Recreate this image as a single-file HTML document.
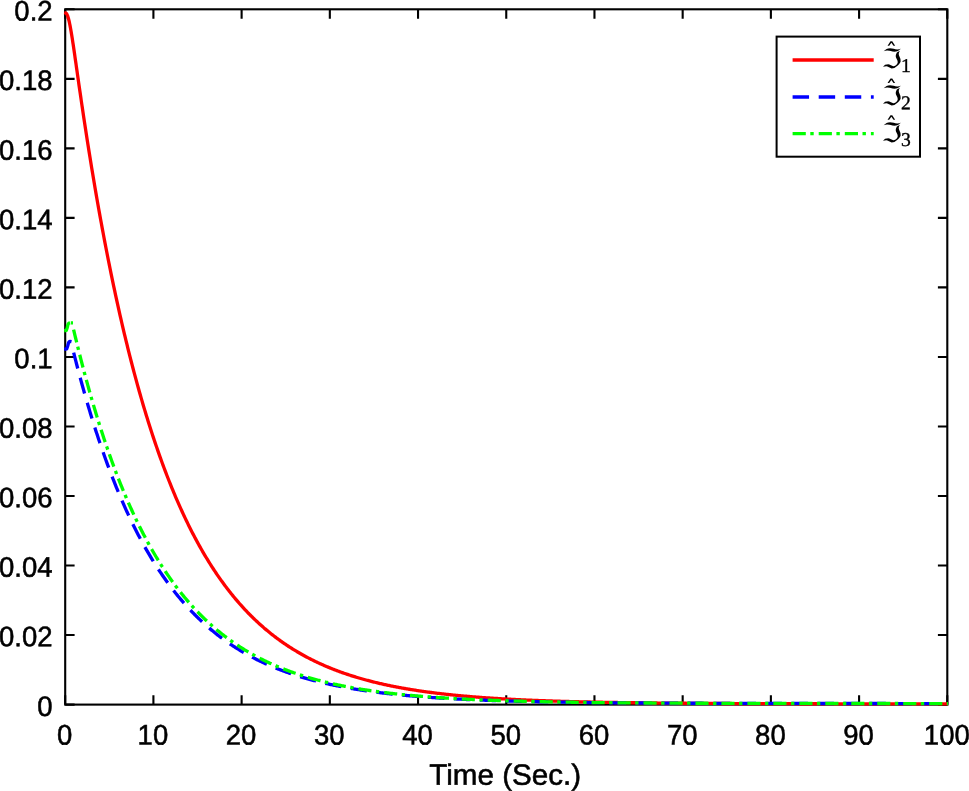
<!DOCTYPE html>
<html lang="en">
<head>
<meta charset="utf-8">
<title>Time (Sec.)</title>
<style>
html,body{margin:0;padding:0;background:#fff;}
body{width:969px;height:791px;overflow:hidden;}
svg{display:block;}
</style>
</head>
<body>
<svg width="969" height="791" viewBox="0 0 969 791">
<rect x="0" y="0" width="969" height="791" fill="#fff"/>
<g stroke="#000" stroke-width="2.1" fill="none" stroke-linecap="butt">
<rect x="65.2" y="9.3" width="882.10" height="695.30"/>
<path d="M65.20,704.6V695.20M65.20,9.3V18.70M153.41,704.6V695.20M153.41,9.3V18.70M241.62,704.6V695.20M241.62,9.3V18.70M329.83,704.6V695.20M329.83,9.3V18.70M418.04,704.6V695.20M418.04,9.3V18.70M506.25,704.6V695.20M506.25,9.3V18.70M594.46,704.6V695.20M594.46,9.3V18.70M682.67,704.6V695.20M682.67,9.3V18.70M770.88,704.6V695.20M770.88,9.3V18.70M859.09,704.6V695.20M859.09,9.3V18.70M947.30,704.6V695.20M947.30,9.3V18.70M65.2,704.60H74.60M947.3,704.60H937.90M65.2,635.07H74.60M947.3,635.07H937.90M65.2,565.54H74.60M947.3,565.54H937.90M65.2,496.01H74.60M947.3,496.01H937.90M65.2,426.48H74.60M947.3,426.48H937.90M65.2,356.95H74.60M947.3,356.95H937.90M65.2,287.42H74.60M947.3,287.42H937.90M65.2,217.89H74.60M947.3,217.89H937.90M65.2,148.36H74.60M947.3,148.36H937.90M65.2,78.83H74.60M947.3,78.83H937.90M65.2,9.30H74.60M947.3,9.30H937.90"/>
</g>
<g font-family="'Liberation Sans', Arial, Helvetica, sans-serif" font-size="28.3" fill="#000" stroke="#000" stroke-width="0.55" text-rendering="geometricPrecision">
<g text-anchor="middle">
<text transform="translate(64.70,744.6) scale(0.972,1) rotate(0.03)">0</text>
<text transform="translate(152.91,744.6) scale(0.972,1) rotate(0.03)">10</text>
<text transform="translate(241.12,744.6) scale(0.972,1) rotate(0.03)">20</text>
<text transform="translate(329.33,744.6) scale(0.972,1) rotate(0.03)">30</text>
<text transform="translate(417.54,744.6) scale(0.972,1) rotate(0.03)">40</text>
<text transform="translate(505.75,744.6) scale(0.972,1) rotate(0.03)">50</text>
<text transform="translate(593.96,744.6) scale(0.972,1) rotate(0.03)">60</text>
<text transform="translate(682.17,744.6) scale(0.972,1) rotate(0.03)">70</text>
<text transform="translate(770.38,744.6) scale(0.972,1) rotate(0.03)">80</text>
<text transform="translate(858.59,744.6) scale(0.972,1) rotate(0.03)">90</text>
<text transform="translate(946.80,744.6) scale(0.972,1) rotate(0.03)">100</text>
</g>
<g text-anchor="end">
<text transform="translate(52.6,715.90) scale(0.972,1) rotate(0.03)">0</text>
<text transform="translate(52.6,646.37) scale(0.972,1) rotate(0.03)">0.02</text>
<text transform="translate(52.6,576.84) scale(0.972,1) rotate(0.03)">0.04</text>
<text transform="translate(52.6,507.31) scale(0.972,1) rotate(0.03)">0.06</text>
<text transform="translate(52.6,437.78) scale(0.972,1) rotate(0.03)">0.08</text>
<text transform="translate(52.6,368.25) scale(0.972,1) rotate(0.03)">0.1</text>
<text transform="translate(52.6,298.72) scale(0.972,1) rotate(0.03)">0.12</text>
<text transform="translate(52.6,229.19) scale(0.972,1) rotate(0.03)">0.14</text>
<text transform="translate(52.6,159.66) scale(0.972,1) rotate(0.03)">0.16</text>
<text transform="translate(52.6,90.13) scale(0.972,1) rotate(0.03)">0.18</text>
<text transform="translate(52.6,20.60) scale(0.972,1) rotate(0.03)">0.2</text>
</g>
<text transform="translate(505.2,784.8) scale(1.01,1) rotate(0.03)" text-anchor="middle" font-size="29.3">Time (Sec.)</text>
</g>
<g fill="none" stroke-width="3.3" stroke-linejoin="round" stroke-linecap="butt">
<path stroke="#ff0000" d="M64.20,12.62 L65.20,12.92 L65.42,12.93 L65.64,12.97 L65.86,13.06 L66.08,13.21 L66.30,13.41 L66.52,13.67 L66.74,13.99 L66.96,14.37 L67.18,14.82 L67.41,15.32 L67.63,15.89 L67.85,16.52 L68.07,17.21 L68.29,17.95 L68.51,18.75 L68.73,19.60 L68.95,20.50 L69.17,21.45 L69.39,22.44 L69.61,23.48 L69.83,24.57 L70.05,25.69 L70.27,26.84 L70.49,28.04 L70.71,29.26 L70.93,30.52 L71.15,31.80 L71.37,33.12 L71.60,34.45 L71.82,35.81 L72.04,37.19 L72.26,38.59 L72.48,40.00 L72.70,41.44 L72.92,42.88 L73.14,44.35 L73.36,45.82 L73.58,47.30 L73.80,48.80 L74.02,50.30 L74.24,51.81 L74.46,53.33 L74.68,54.85 L74.90,56.38 L75.12,57.91 L75.34,59.45 L75.56,60.99 L75.79,62.53 L76.01,64.08 L76.23,65.62 L76.45,67.17 L76.67,68.72 L76.89,70.27 L77.11,71.81 L77.33,73.36 L77.55,74.91 L77.77,76.45 L77.99,78.00 L78.21,79.54 L78.43,81.08 L78.65,82.62 L78.87,84.15 L79.09,85.69 L79.31,87.22 L79.53,88.75 L79.75,90.27 L79.98,91.80 L80.20,93.32 L80.42,94.84 L80.64,96.35 L80.86,97.86 L81.08,99.37 L81.30,100.87 L81.52,102.38 L81.74,103.88 L81.96,105.37 L82.18,106.86 L82.40,108.35 L82.62,109.84 L82.84,111.32 L83.72,117.21 L84.61,123.04 L85.49,128.82 L86.37,134.54 L87.25,140.20 L88.13,145.81 L89.02,151.37 L89.90,156.86 L90.78,162.31 L91.66,167.70 L92.55,173.03 L93.43,178.31 L94.31,183.54 L95.19,188.72 L96.07,193.85 L96.96,198.92 L97.84,203.95 L98.72,208.92 L99.60,213.85 L100.48,218.72 L101.37,223.55 L102.25,228.33 L103.13,233.06 L104.01,237.75 L104.89,242.38 L105.78,246.98 L106.66,251.52 L107.54,256.02 L108.42,260.48 L109.31,264.89 L110.19,269.26 L111.07,273.59 L111.95,277.87 L112.83,282.11 L113.72,286.30 L114.60,290.46 L115.48,294.57 L116.36,298.65 L117.24,302.68 L118.13,306.67 L119.01,310.62 L119.89,314.54 L120.77,318.41 L121.65,322.25 L122.54,326.04 L123.42,329.80 L124.30,333.53 L125.18,337.21 L126.06,340.86 L126.95,344.47 L127.83,348.05 L128.71,351.59 L129.59,355.10 L130.48,358.57 L131.36,362.00 L132.24,365.40 L133.12,368.77 L134.00,372.11 L134.89,375.41 L135.77,378.68 L136.65,381.91 L137.53,385.12 L138.41,388.29 L139.30,391.43 L140.18,394.54 L141.06,397.62 L141.94,400.66 L142.82,403.68 L143.71,406.67 L144.59,409.63 L145.47,412.55 L146.35,415.45 L147.24,418.32 L148.12,421.17 L149.00,423.98 L149.88,426.76 L150.76,429.52 L151.65,432.25 L152.53,434.95 L153.41,437.63 L154.29,440.28 L155.17,442.90 L156.06,445.50 L156.94,448.07 L157.82,450.62 L158.70,453.14 L159.58,455.63 L160.47,458.10 L161.35,460.55 L162.23,462.97 L163.11,465.37 L164.00,467.74 L164.88,470.09 L165.76,472.42 L166.64,474.72 L167.52,477.00 L168.41,479.26 L169.29,481.49 L170.17,483.71 L171.05,485.90 L171.93,488.07 L172.82,490.21 L173.70,492.34 L174.58,494.45 L175.46,496.53 L176.34,498.59 L177.23,500.64 L178.11,502.66 L178.99,504.66 L179.87,506.64 L180.76,508.61 L181.64,510.55 L182.52,512.47 L183.40,514.38 L184.28,516.26 L185.17,518.13 L186.05,519.98 L186.93,521.81 L187.81,523.62 L188.69,525.42 L189.58,527.19 L190.46,528.95 L191.34,530.69 L192.22,532.41 L193.10,534.12 L193.99,535.81 L194.87,537.48 L195.75,539.14 L196.63,540.78 L197.51,542.40 L198.40,544.01 L199.28,545.60 L200.16,547.17 L201.04,548.73 L201.93,550.28 L202.81,551.81 L203.69,553.32 L204.57,554.82 L205.45,556.30 L206.34,557.77 L207.22,559.22 L208.10,560.66 L208.98,562.09 L209.86,563.50 L210.75,564.90 L211.63,566.28 L212.51,567.65 L213.39,569.01 L214.27,570.35 L215.16,571.68 L216.04,572.99 L216.92,574.30 L217.80,575.58 L218.69,576.86 L219.57,578.13 L220.45,579.38 L221.33,580.62 L222.21,581.84 L223.10,583.06 L223.98,584.26 L224.86,585.45 L225.74,586.63 L226.62,587.80 L227.51,588.95 L228.39,590.10 L229.27,591.23 L230.15,592.35 L231.03,593.46 L231.92,594.56 L232.80,595.65 L233.68,596.72 L234.56,597.79 L235.45,598.85 L236.33,599.89 L237.21,600.93 L238.09,601.95 L238.97,602.96 L239.86,603.97 L240.74,604.96 L241.62,605.95 L242.50,606.92 L243.38,607.89 L244.27,608.84 L245.15,609.79 L246.03,610.73 L246.91,611.65 L247.79,612.57 L248.68,613.48 L249.56,614.38 L250.44,615.27 L251.32,616.15 L252.21,617.02 L253.09,617.89 L253.97,618.75 L254.85,619.59 L255.73,620.43 L256.62,621.26 L257.50,622.08 L258.38,622.90 L259.26,623.70 L260.14,624.50 L261.03,625.29 L261.91,626.07 L262.79,626.85 L263.67,627.62 L264.55,628.38 L265.44,629.13 L266.32,629.87 L267.20,630.61 L268.08,631.34 L268.97,632.06 L269.85,632.77 L270.73,633.48 L271.61,634.18 L272.49,634.88 L273.38,635.56 L274.26,636.24 L275.14,636.92 L276.02,637.58 L276.90,638.24 L277.79,638.90 L278.67,639.54 L279.55,640.18 L280.43,640.82 L281.31,641.44 L282.20,642.07 L283.08,642.68 L283.96,643.29 L284.84,643.89 L285.73,644.49 L286.61,645.08 L287.49,645.67 L288.37,646.25 L289.25,646.82 L290.14,647.39 L291.02,647.95 L291.90,648.51 L292.78,649.06 L293.66,649.60 L294.55,650.14 L295.43,650.68 L296.31,651.21 L297.19,651.73 L298.07,652.25 L298.96,652.77 L299.84,653.28 L300.72,653.78 L301.60,654.28 L302.48,654.77 L303.37,655.26 L304.25,655.74 L305.13,656.22 L306.01,656.70 L306.90,657.17 L307.78,657.63 L308.66,658.09 L309.54,658.55 L310.42,659.00 L311.31,659.45 L312.19,659.89 L313.07,660.33 L313.95,660.76 L314.83,661.19 L315.72,661.62 L316.60,662.04 L317.48,662.45 L318.36,662.87 L319.24,663.27 L320.13,663.68 L321.01,664.08 L321.89,664.47 L322.77,664.87 L323.66,665.26 L324.54,665.64 L325.42,666.02 L326.30,666.40 L327.18,666.77 L328.07,667.14 L328.95,667.51 L329.83,667.87 L330.71,668.23 L331.59,668.58 L332.48,668.93 L333.36,669.28 L334.24,669.63 L335.12,669.97 L336.00,670.30 L336.89,670.64 L337.77,670.97 L338.65,671.30 L339.53,671.62 L340.42,671.94 L341.30,672.26 L342.18,672.58 L343.06,672.89 L343.94,673.20 L344.83,673.50 L345.71,673.80 L346.59,674.10 L347.47,674.40 L348.35,674.69 L349.24,674.98 L350.12,675.27 L351.00,675.56 L351.88,675.84 L352.76,676.12 L353.65,676.40 L354.53,676.67 L355.41,676.94 L356.29,677.21 L357.18,677.47 L358.06,677.74 L358.94,678.00 L359.82,678.26 L360.70,678.51 L361.59,678.76 L362.47,679.01 L363.35,679.26 L364.23,679.51 L365.11,679.75 L366.00,679.99 L366.88,680.23 L367.76,680.46 L368.64,680.70 L369.52,680.93 L370.41,681.16 L371.29,681.38 L372.17,681.61 L373.05,681.83 L373.93,682.05 L374.82,682.27 L375.70,682.48 L376.58,682.69 L377.46,682.90 L378.35,683.11 L379.23,683.32 L380.11,683.53 L380.99,683.73 L381.87,683.93 L382.76,684.13 L383.64,684.32 L384.52,684.52 L385.40,684.71 L386.28,684.90 L387.17,685.09 L388.05,685.28 L388.93,685.46 L389.81,685.65 L390.69,685.83 L391.58,686.01 L392.46,686.19 L393.34,686.36 L394.22,686.54 L395.11,686.71 L395.99,686.88 L396.87,687.05 L397.75,687.22 L398.63,687.39 L399.52,687.55 L400.40,687.71 L401.28,687.87 L402.16,688.03 L403.04,688.19 L403.93,688.35 L404.81,688.50 L405.69,688.66 L406.57,688.81 L407.45,688.96 L408.34,689.11 L409.22,689.25 L410.10,689.40 L410.98,689.54 L411.87,689.69 L412.75,689.83 L413.63,689.97 L414.51,690.11 L415.39,690.24 L416.28,690.38 L417.16,690.51 L418.04,690.65 L418.92,690.78 L419.80,690.91 L420.69,691.04 L421.57,691.17 L422.45,691.29 L423.33,691.42 L424.21,691.54 L425.10,691.67 L425.98,691.79 L426.86,691.91 L427.74,692.03 L428.63,692.15 L429.51,692.26 L430.39,692.38 L431.27,692.49 L432.15,692.61 L433.04,692.72 L433.92,692.83 L434.80,692.94 L435.68,693.05 L436.56,693.16 L437.45,693.27 L438.33,693.37 L439.21,693.48 L440.09,693.58 L440.97,693.68 L441.86,693.78 L442.74,693.89 L443.62,693.98 L444.50,694.08 L445.39,694.18 L446.27,694.28 L447.15,694.37 L448.03,694.47 L448.91,694.56 L449.80,694.66 L450.68,694.75 L451.56,694.84 L452.44,694.93 L453.32,695.02 L454.21,695.11 L455.09,695.19 L455.97,695.28 L456.85,695.37 L457.73,695.45 L458.62,695.54 L459.50,695.62 L460.38,695.70 L461.26,695.78 L462.14,695.86 L463.03,695.94 L463.91,696.02 L464.79,696.10 L465.67,696.18 L466.56,696.26 L467.44,696.33 L468.32,696.41 L469.20,696.48 L470.08,696.56 L470.97,696.63 L471.85,696.70 L472.73,696.77 L473.61,696.84 L474.49,696.91 L475.38,696.98 L476.26,697.05 L477.14,697.12 L478.02,697.19 L478.90,697.26 L479.79,697.32 L480.67,697.39 L481.55,697.45 L482.43,697.52 L483.32,697.58 L484.20,697.64 L485.08,697.70 L485.96,697.77 L486.84,697.83 L487.73,697.89 L488.61,697.95 L489.49,698.01 L490.37,698.07 L491.25,698.12 L492.14,698.18 L493.02,698.24 L493.90,698.29 L494.78,698.35 L495.66,698.41 L496.55,698.46 L497.43,698.51 L498.31,698.57 L499.19,698.62 L500.08,698.67 L500.96,698.73 L501.84,698.78 L502.72,698.83 L503.60,698.88 L504.49,698.93 L505.37,698.98 L506.25,699.03 L507.13,699.08 L508.01,699.12 L508.90,699.17 L509.78,699.22 L510.66,699.27 L511.54,699.31 L512.42,699.36 L513.31,699.40 L514.19,699.45 L515.07,699.49 L515.95,699.54 L516.84,699.58 L517.72,699.62 L518.60,699.66 L519.48,699.71 L520.36,699.75 L521.25,699.79 L522.13,699.83 L523.01,699.87 L523.89,699.91 L524.77,699.95 L525.66,699.99 L526.54,700.03 L527.42,700.07 L528.30,700.11 L529.18,700.14 L530.07,700.18 L530.95,700.22 L531.83,700.26 L532.71,700.29 L533.60,700.33 L534.48,700.36 L535.36,700.40 L536.24,700.43 L537.12,700.47 L538.01,700.50 L538.89,700.54 L539.77,700.57 L540.65,700.60 L541.53,700.64 L542.42,700.67 L543.30,700.70 L544.18,700.73 L545.06,700.76 L545.94,700.80 L546.83,700.83 L547.71,700.86 L548.59,700.89 L549.47,700.92 L550.36,700.95 L551.24,700.98 L552.12,701.01 L553.00,701.03 L553.88,701.06 L554.77,701.09 L555.65,701.12 L556.53,701.15 L557.41,701.17 L558.29,701.20 L559.18,701.23 L560.06,701.25 L560.94,701.28 L561.82,701.31 L562.70,701.33 L563.59,701.36 L564.47,701.38 L565.35,701.41 L566.23,701.43 L567.11,701.46 L568.00,701.48 L568.88,701.51 L569.76,701.53 L570.64,701.55 L571.53,701.58 L572.41,701.60 L573.29,701.62 L574.17,701.65 L575.05,701.67 L575.94,701.69 L576.82,701.71 L577.70,701.74 L578.58,701.76 L579.46,701.78 L580.35,701.80 L581.23,701.82 L582.11,701.84 L582.99,701.86 L583.87,701.88 L584.76,701.90 L585.64,701.92 L586.52,701.94 L587.40,701.96 L588.29,701.98 L589.17,702.00 L590.05,702.02 L590.93,702.04 L591.81,702.06 L592.70,702.07 L593.58,702.09 L594.46,702.11 L595.34,702.13 L596.22,702.15 L597.11,702.16 L597.99,702.18 L598.87,702.20 L599.75,702.22 L600.63,702.23 L601.52,702.25 L602.40,702.26 L603.28,702.28 L604.16,702.30 L605.05,702.31 L605.93,702.33 L606.81,702.34 L607.69,702.36 L608.57,702.38 L609.46,702.39 L610.34,702.41 L611.22,702.42 L612.10,702.44 L612.98,702.45 L613.87,702.46 L614.75,702.48 L615.63,702.49 L616.51,702.51 L617.39,702.52 L618.28,702.54 L619.16,702.55 L620.04,702.56 L620.92,702.58 L621.81,702.59 L622.69,702.60 L623.57,702.61 L624.45,702.63 L625.33,702.64 L626.22,702.65 L627.10,702.67 L627.98,702.68 L628.86,702.69 L629.74,702.70 L630.63,702.71 L631.51,702.73 L632.39,702.74 L633.27,702.75 L634.15,702.76 L635.04,702.77 L635.92,702.78 L636.80,702.79 L637.68,702.81 L638.56,702.82 L639.45,702.83 L640.33,702.84 L641.21,702.85 L642.09,702.86 L642.98,702.87 L643.86,702.88 L644.74,702.89 L645.62,702.90 L646.50,702.91 L647.39,702.92 L648.27,702.93 L649.15,702.94 L650.03,702.95 L650.91,702.96 L651.80,702.97 L652.68,702.98 L653.56,702.99 L654.44,703.00 L655.32,703.00 L656.21,703.01 L657.09,703.02 L657.97,703.03 L658.85,703.04 L659.74,703.05 L660.62,703.06 L661.50,703.07 L662.38,703.07 L663.26,703.08 L664.15,703.09 L665.03,703.10 L665.91,703.11 L666.79,703.11 L667.67,703.12 L668.56,703.13 L669.44,703.14 L670.32,703.15 L671.20,703.15 L672.08,703.16 L672.97,703.17 L673.85,703.18 L674.73,703.18 L675.61,703.19 L676.50,703.20 L677.38,703.20 L678.26,703.21 L679.14,703.22 L680.02,703.22 L680.91,703.23 L681.79,703.24 L682.67,703.24 L683.55,703.25 L684.43,703.26 L685.32,703.26 L686.20,703.27 L687.08,703.28 L687.96,703.28 L688.84,703.29 L689.73,703.30 L690.61,703.30 L691.49,703.31 L692.37,703.31 L693.26,703.32 L694.14,703.33 L695.02,703.33 L695.90,703.34 L696.78,703.34 L697.67,703.35 L698.55,703.35 L699.43,703.36 L700.31,703.36 L701.19,703.37 L702.08,703.38 L702.96,703.38 L703.84,703.39 L704.72,703.39 L705.60,703.40 L706.49,703.40 L707.37,703.41 L708.25,703.41 L709.13,703.42 L710.02,703.42 L710.90,703.43 L711.78,703.43 L712.66,703.43 L713.54,703.44 L714.43,703.44 L715.31,703.45 L716.19,703.45 L717.07,703.46 L717.95,703.46 L718.84,703.47 L719.72,703.47 L720.60,703.48 L721.48,703.48 L722.36,703.48 L723.25,703.49 L724.13,703.49 L725.01,703.50 L725.89,703.50 L726.78,703.50 L727.66,703.51 L728.54,703.51 L729.42,703.52 L730.30,703.52 L731.19,703.52 L732.07,703.53 L732.95,703.53 L733.83,703.54 L734.71,703.54 L735.60,703.54 L736.48,703.55 L737.36,703.55 L738.24,703.55 L739.12,703.56 L740.01,703.56 L740.89,703.56 L741.77,703.57 L742.65,703.57 L743.53,703.57 L744.42,703.58 L745.30,703.58 L746.18,703.58 L747.06,703.59 L747.95,703.59 L748.83,703.59 L749.71,703.60 L750.59,703.60 L751.47,703.60 L752.36,703.61 L753.24,703.61 L754.12,703.61 L755.00,703.61 L755.88,703.62 L756.77,703.62 L757.65,703.62 L758.53,703.63 L759.41,703.63 L760.29,703.63 L761.18,703.63 L762.06,703.64 L762.94,703.64 L763.82,703.64 L764.71,703.64 L765.59,703.65 L766.47,703.65 L767.35,703.65 L768.23,703.65 L769.12,703.66 L770.00,703.66 L770.88,703.66 L771.76,703.66 L772.64,703.67 L773.53,703.67 L774.41,703.67 L775.29,703.67 L776.17,703.68 L777.05,703.68 L777.94,703.68 L778.82,703.68 L779.70,703.68 L780.58,703.69 L781.47,703.69 L782.35,703.69 L783.23,703.69 L784.11,703.70 L784.99,703.70 L785.88,703.70 L786.76,703.70 L787.64,703.70 L788.52,703.71 L789.40,703.71 L790.29,703.71 L791.17,703.71 L792.05,703.71 L792.93,703.72 L793.81,703.72 L794.70,703.72 L795.58,703.72 L796.46,703.72 L797.34,703.72 L798.23,703.73 L799.11,703.73 L799.99,703.73 L800.87,703.73 L801.75,703.73 L802.64,703.74 L803.52,703.74 L804.40,703.74 L805.28,703.74 L806.16,703.74 L807.05,703.74 L807.93,703.75 L808.81,703.75 L809.69,703.75 L810.57,703.75 L811.46,703.75 L812.34,703.75 L813.22,703.75 L814.10,703.76 L814.98,703.76 L815.87,703.76 L816.75,703.76 L817.63,703.76 L818.51,703.76 L819.40,703.76 L820.28,703.77 L821.16,703.77 L822.04,703.77 L822.92,703.77 L823.81,703.77 L824.69,703.77 L825.57,703.77 L826.45,703.78 L827.33,703.78 L828.22,703.78 L829.10,703.78 L829.98,703.78 L830.86,703.78 L831.74,703.78 L832.63,703.78 L833.51,703.79 L834.39,703.79 L835.27,703.79 L836.16,703.79 L837.04,703.79 L837.92,703.79 L838.80,703.79 L839.68,703.79 L840.57,703.79 L841.45,703.80 L842.33,703.80 L843.21,703.80 L844.09,703.80 L844.98,703.80 L845.86,703.80 L846.74,703.80 L847.62,703.80 L848.50,703.80 L849.39,703.80 L850.27,703.81 L851.15,703.81 L852.03,703.81 L852.92,703.81 L853.80,703.81 L854.68,703.81 L855.56,703.81 L856.44,703.81 L857.33,703.81 L858.21,703.81 L859.09,703.82 L859.97,703.82 L860.85,703.82 L861.74,703.82 L862.62,703.82 L863.50,703.82 L864.38,703.82 L865.26,703.82 L866.15,703.82 L867.03,703.82 L867.91,703.82 L868.79,703.82 L869.68,703.83 L870.56,703.83 L871.44,703.83 L872.32,703.83 L873.20,703.83 L874.09,703.83 L874.97,703.83 L875.85,703.83 L876.73,703.83 L877.61,703.83 L878.50,703.83 L879.38,703.83 L880.26,703.83 L881.14,703.84 L882.02,703.84 L882.91,703.84 L883.79,703.84 L884.67,703.84 L885.55,703.84 L886.44,703.84 L887.32,703.84 L888.20,703.84 L889.08,703.84 L889.96,703.84 L890.85,703.84 L891.73,703.84 L892.61,703.84 L893.49,703.84 L894.37,703.84 L895.26,703.85 L896.14,703.85 L897.02,703.85 L897.90,703.85 L898.78,703.85 L899.67,703.85 L900.55,703.85 L901.43,703.85 L902.31,703.85 L903.19,703.85 L904.08,703.85 L904.96,703.85 L905.84,703.85 L906.72,703.85 L907.61,703.85 L908.49,703.85 L909.37,703.85 L910.25,703.85 L911.13,703.86 L912.02,703.86 L912.90,703.86 L913.78,703.86 L914.66,703.86 L915.54,703.86 L916.43,703.86 L917.31,703.86 L918.19,703.86 L919.07,703.86 L919.95,703.86 L920.84,703.86 L921.72,703.86 L922.60,703.86 L923.48,703.86 L924.37,703.86 L925.25,703.86 L926.13,703.86 L927.01,703.86 L927.89,703.86 L928.78,703.86 L929.66,703.86 L930.54,703.86 L931.42,703.87 L932.30,703.87 L933.19,703.87 L934.07,703.87 L934.95,703.87 L935.83,703.87 L936.71,703.87 L937.60,703.87 L938.48,703.87 L939.36,703.87 L940.24,703.87 L941.13,703.87 L942.01,703.87 L942.89,703.87 L943.77,703.87 L944.65,703.87 L945.54,703.87 L946.42,703.87 L947.30,703.87 L948.20,703.87"/>
<path stroke="#0000ff" stroke-dasharray="16.37 9.6" d="M73.66,352.64 L74.12,354.47 L74.58,356.29 L75.04,358.11 L75.51,359.91 L75.97,361.70 L76.43,363.49 L76.89,365.26 L77.35,367.03 L77.81,368.78 L78.28,370.53 L78.74,372.27 L79.20,374.00 L79.66,375.72 L80.12,377.43 L80.58,379.13 L81.05,380.83 L81.51,382.51 L81.97,384.19 L82.43,385.85 L82.89,387.51 L83.35,389.16 L83.82,390.80 L84.28,392.43 L84.74,394.06 L85.20,395.67 L85.66,397.28 L86.12,398.88 L86.59,400.47 L87.05,402.05 L87.51,403.63 L87.97,405.19 L88.43,406.75 L88.89,408.30 L89.35,409.84 L89.82,411.37 L90.28,412.90 L90.74,414.41 L91.20,415.92 L91.66,417.42 L92.55,420.27 L93.43,423.09 L94.31,425.88 L95.19,428.64 L96.07,431.38 L96.96,434.09 L97.84,436.77 L98.72,439.42 L99.60,442.05 L100.48,444.65 L101.37,447.23 L102.25,449.78 L103.13,452.30 L104.01,454.80 L104.89,457.28 L105.78,459.73 L106.66,462.16 L107.54,464.56 L108.42,466.94 L109.31,469.29 L110.19,471.62 L111.07,473.93 L111.95,476.21 L112.83,478.48 L113.72,480.72 L114.60,482.93 L115.48,485.13 L116.36,487.30 L117.24,489.45 L118.13,491.58 L119.01,493.69 L119.89,495.78 L120.77,497.85 L121.65,499.90 L122.54,501.92 L123.42,503.93 L124.30,505.92 L125.18,507.88 L126.06,509.83 L126.95,511.76 L127.83,513.66 L128.71,515.55 L129.59,517.42 L130.48,519.28 L131.36,521.11 L132.24,522.93 L133.12,524.72 L134.00,526.50 L134.89,528.26 L135.77,530.01 L136.65,531.74 L137.53,533.45 L138.41,535.14 L139.30,536.81 L140.18,538.47 L141.06,540.12 L141.94,541.74 L142.82,543.35 L143.71,544.95 L144.59,546.52 L145.47,548.09 L146.35,549.63 L147.24,551.16 L148.12,552.68 L149.00,554.18 L149.88,555.67 L150.76,557.14 L151.65,558.60 L152.53,560.04 L153.41,561.47 L154.29,562.88 L155.17,564.28 L156.06,565.67 L156.94,567.04 L157.82,568.40 L158.70,569.74 L159.58,571.07 L160.47,572.39 L161.35,573.70 L162.23,574.99 L163.11,576.27 L164.00,577.54 L164.88,578.79 L165.76,580.03 L166.64,581.26 L167.52,582.48 L168.41,583.68 L169.29,584.87 L170.17,586.05 L171.05,587.22 L171.93,588.38 L172.82,589.53 L173.70,590.66 L174.58,591.79 L175.46,592.90 L176.34,594.00 L177.23,595.09 L178.11,596.17 L178.99,597.24 L179.87,598.29 L180.76,599.34 L181.64,600.38 L182.52,601.41 L183.40,602.42 L184.28,603.43 L185.17,604.42 L186.05,605.41 L186.93,606.39 L187.81,607.35 L188.69,608.31 L189.58,609.26 L190.46,610.20 L191.34,611.13 L192.22,612.05 L193.10,612.96 L193.99,613.86 L194.87,614.75 L195.75,615.63 L196.63,616.51 L197.51,617.38 L198.40,618.23 L199.28,619.08 L200.16,619.92 L201.04,620.75 L201.93,621.58 L202.81,622.39 L203.69,623.20 L204.57,624.00 L205.45,624.79 L206.34,625.58 L207.22,626.35 L208.10,627.12 L208.98,627.88 L209.86,628.63 L210.75,629.38 L211.63,630.12 L212.51,630.85 L213.39,631.57 L214.27,632.29 L215.16,633.00 L216.04,633.70 L216.92,634.39 L217.80,635.08 L218.69,635.76 L219.57,636.44 L220.45,637.11 L221.33,637.77 L222.21,638.42 L223.10,639.07 L223.98,639.71 L224.86,640.35 L225.74,640.98 L226.62,641.60 L227.51,642.22 L228.39,642.83 L229.27,643.43 L230.15,644.03 L231.03,644.62 L231.92,645.21 L232.80,645.79 L233.68,646.36 L234.56,646.93 L235.45,647.50 L236.33,648.05 L237.21,648.61 L238.09,649.15 L238.97,649.69 L239.86,650.23 L240.74,650.76 L241.62,651.29 L242.50,651.81 L243.38,652.32 L244.27,652.83 L245.15,653.33 L246.03,653.83 L246.91,654.33 L247.79,654.82 L248.68,655.30 L249.56,655.78 L250.44,656.26 L251.32,656.73 L252.21,657.20 L253.09,657.66 L253.97,658.11 L254.85,658.57 L255.73,659.01 L256.62,659.46 L257.50,659.90 L258.38,660.33 L259.26,660.76 L260.14,661.19 L261.03,661.61 L261.91,662.03 L262.79,662.44 L263.67,662.85 L264.55,663.25 L265.44,663.65 L266.32,664.05 L267.20,664.44 L268.08,664.83 L268.97,665.22 L269.85,665.60 L270.73,665.98 L271.61,666.35 L272.49,666.72 L273.38,667.09 L274.26,667.45 L275.14,667.81 L276.02,668.17 L276.90,668.52 L277.79,668.87 L278.67,669.21 L279.55,669.55 L280.43,669.89 L281.31,670.23 L282.20,670.56 L283.08,670.89 L283.96,671.21 L284.84,671.53 L285.73,671.85 L286.61,672.17 L287.49,672.48 L288.37,672.79 L289.25,673.10 L290.14,673.40 L291.02,673.70 L291.90,674.00 L292.78,674.29 L293.66,674.58 L294.55,674.87 L295.43,675.16 L296.31,675.44 L297.19,675.72 L298.07,675.99 L298.96,676.27 L299.84,676.54 L300.72,676.81 L301.60,677.08 L302.48,677.34 L303.37,677.60 L304.25,677.86 L305.13,678.11 L306.01,678.37 L306.90,678.62 L307.78,678.87 L308.66,679.11 L309.54,679.35 L310.42,679.60 L311.31,679.83 L312.19,680.07 L313.07,680.30 L313.95,680.53 L314.83,680.76 L315.72,680.99 L316.60,681.22 L317.48,681.44 L318.36,681.66 L319.24,681.88 L320.13,682.09 L321.01,682.30 L321.89,682.52 L322.77,682.73 L323.66,682.93 L324.54,683.14 L325.42,683.34 L326.30,683.54 L327.18,683.74 L328.07,683.94 L328.95,684.13 L329.83,684.33 L330.71,684.52 L331.59,684.71 L332.48,684.90 L333.36,685.08 L334.24,685.27 L335.12,685.45 L336.00,685.63 L336.89,685.81 L337.77,685.98 L338.65,686.16 L339.53,686.33 L340.42,686.50 L341.30,686.67 L342.18,686.84 L343.06,687.01 L343.94,687.17 L344.83,687.33 L345.71,687.50 L346.59,687.65 L347.47,687.81 L348.35,687.97 L349.24,688.12 L350.12,688.28 L351.00,688.43 L351.88,688.58 L352.76,688.73 L353.65,688.88 L354.53,689.02 L355.41,689.17 L356.29,689.31 L357.18,689.45 L358.06,689.59 L358.94,689.73 L359.82,689.87 L360.70,690.01 L361.59,690.14 L362.47,690.27 L363.35,690.41 L364.23,690.54 L365.11,690.67 L366.00,690.80 L366.88,690.92 L367.76,691.05 L368.64,691.17 L369.52,691.30 L370.41,691.42 L371.29,691.54 L372.17,691.66 L373.05,691.78 L373.93,691.89 L374.82,692.01 L375.70,692.12 L376.58,692.24 L377.46,692.35 L378.35,692.46 L379.23,692.57 L380.11,692.68 L380.99,692.79 L381.87,692.90 L382.76,693.00 L383.64,693.11 L384.52,693.21 L385.40,693.32 L386.28,693.42 L387.17,693.52 L388.05,693.62 L388.93,693.72 L389.81,693.81 L390.69,693.91 L391.58,694.01 L392.46,694.10 L393.34,694.20 L394.22,694.29 L395.11,694.38 L395.99,694.47 L396.87,694.56 L397.75,694.65 L398.63,694.74 L399.52,694.83 L400.40,694.92 L401.28,695.00 L402.16,695.09 L403.04,695.17 L403.93,695.26 L404.81,695.34 L405.69,695.42 L406.57,695.50 L407.45,695.58 L408.34,695.66 L409.22,695.74 L410.10,695.82 L410.98,695.89 L411.87,695.97 L412.75,696.05 L413.63,696.12 L414.51,696.19 L415.39,696.27 L416.28,696.34 L417.16,696.41 L418.04,696.48 L418.92,696.55 L419.80,696.62 L420.69,696.69 L421.57,696.76 L422.45,696.83 L423.33,696.89 L424.21,696.96 L425.10,697.03 L425.98,697.09 L426.86,697.16 L427.74,697.22 L428.63,697.28 L429.51,697.35 L430.39,697.41 L431.27,697.47 L432.15,697.53 L433.04,697.59 L433.92,697.65 L434.80,697.71 L435.68,697.77 L436.56,697.82 L437.45,697.88 L438.33,697.94 L439.21,697.99 L440.09,698.05 L440.97,698.10 L441.86,698.16 L442.74,698.21 L443.62,698.26 L444.50,698.32 L445.39,698.37 L446.27,698.42 L447.15,698.47 L448.03,698.52 L448.91,698.57 L449.80,698.62 L450.68,698.67 L451.56,698.72 L452.44,698.77 L453.32,698.82 L454.21,698.86 L455.09,698.91 L455.97,698.96 L456.85,699.00 L457.73,699.05 L458.62,699.09 L459.50,699.14 L460.38,699.18 L461.26,699.22 L462.14,699.27 L463.03,699.31 L463.91,699.35 L464.79,699.39 L465.67,699.43 L466.56,699.48 L467.44,699.52 L468.32,699.56 L469.20,699.60 L470.08,699.64 L470.97,699.67 L471.85,699.71 L472.73,699.75 L473.61,699.79 L474.49,699.83 L475.38,699.86 L476.26,699.90 L477.14,699.94 L478.02,699.97 L478.90,700.01 L479.79,700.04 L480.67,700.08 L481.55,700.11 L482.43,700.15 L483.32,700.18 L484.20,700.22 L485.08,700.25 L485.96,700.28 L486.84,700.31 L487.73,700.35 L488.61,700.38 L489.49,700.41 L490.37,700.44 L491.25,700.47 L492.14,700.50 L493.02,700.53 L493.90,700.56 L494.78,700.59 L495.66,700.62 L496.55,700.65 L497.43,700.68 L498.31,700.71 L499.19,700.74 L500.08,700.77 L500.96,700.79 L501.84,700.82 L502.72,700.85 L503.60,700.88 L504.49,700.90 L505.37,700.93 L506.25,700.95 L507.13,700.98 L508.01,701.01 L508.90,701.03 L509.78,701.06 L510.66,701.08 L511.54,701.11 L512.42,701.13 L513.31,701.15 L514.19,701.18 L515.07,701.20 L515.95,701.23 L516.84,701.25 L517.72,701.27 L518.60,701.29 L519.48,701.32 L520.36,701.34 L521.25,701.36 L522.13,701.38 L523.01,701.40 L523.89,701.43 L524.77,701.45 L525.66,701.47 L526.54,701.49 L527.42,701.51 L528.30,701.53 L529.18,701.55 L530.07,701.57 L530.95,701.59 L531.83,701.61 L532.71,701.63 L533.60,701.65 L534.48,701.67 L535.36,701.69 L536.24,701.70 L537.12,701.72 L538.01,701.74 L538.89,701.76 L539.77,701.78 L540.65,701.80 L541.53,701.81 L542.42,701.83 L543.30,701.85 L544.18,701.86 L545.06,701.88 L545.94,701.90 L546.83,701.91 L547.71,701.93 L548.59,701.95 L549.47,701.96 L550.36,701.98 L551.24,701.99 L552.12,702.01 L553.00,702.03 L553.88,702.04 L554.77,702.06 L555.65,702.07 L556.53,702.09 L557.41,702.10 L558.29,702.11 L559.18,702.13 L560.06,702.14 L560.94,702.16 L561.82,702.17 L562.70,702.18 L563.59,702.20 L564.47,702.21 L565.35,702.23 L566.23,702.24 L567.11,702.25 L568.00,702.26 L568.88,702.28 L569.76,702.29 L570.64,702.30 L571.53,702.32 L572.41,702.33 L573.29,702.34 L574.17,702.35 L575.05,702.36 L575.94,702.38 L576.82,702.39 L577.70,702.40 L578.58,702.41 L579.46,702.42 L580.35,702.43 L581.23,702.44 L582.11,702.46 L582.99,702.47 L583.87,702.48 L584.76,702.49 L585.64,702.50 L586.52,702.51 L587.40,702.52 L588.29,702.53 L589.17,702.54 L590.05,702.55 L590.93,702.56 L591.81,702.57 L592.70,702.58 L593.58,702.59 L594.46,702.60 L595.34,702.61 L596.22,702.62 L597.11,702.63 L597.99,702.64 L598.87,702.65 L599.75,702.66 L600.63,702.66 L601.52,702.67 L602.40,702.68 L603.28,702.69 L604.16,702.70 L605.05,702.71 L605.93,702.72 L606.81,702.72 L607.69,702.73 L608.57,702.74 L609.46,702.75 L610.34,702.76 L611.22,702.77 L612.10,702.77 L612.98,702.78 L613.87,702.79 L614.75,702.80 L615.63,702.80 L616.51,702.81 L617.39,702.82 L618.28,702.83 L619.16,702.83 L620.04,702.84 L620.92,702.85 L621.81,702.85 L622.69,702.86 L623.57,702.87 L624.45,702.88 L625.33,702.88 L626.22,702.89 L627.10,702.90 L627.98,702.90 L628.86,702.91 L629.74,702.92 L630.63,702.92 L631.51,702.93 L632.39,702.93 L633.27,702.94 L634.15,702.95 L635.04,702.95 L635.92,702.96 L636.80,702.96 L637.68,702.97 L638.56,702.98 L639.45,702.98 L640.33,702.99 L641.21,702.99 L642.09,703.00 L642.98,703.00 L643.86,703.01 L644.74,703.02 L645.62,703.02 L646.50,703.03 L647.39,703.03 L648.27,703.04 L649.15,703.04 L650.03,703.05 L650.91,703.05 L651.80,703.06 L652.68,703.06 L653.56,703.07 L654.44,703.07 L655.32,703.08 L656.21,703.08 L657.09,703.09 L657.97,703.09 L658.85,703.10 L659.74,703.10 L660.62,703.10 L661.50,703.11 L662.38,703.11 L663.26,703.12 L664.15,703.12 L665.03,703.13 L665.91,703.13 L666.79,703.14 L667.67,703.14 L668.56,703.14 L669.44,703.15 L670.32,703.15 L671.20,703.16 L672.08,703.16 L672.97,703.16 L673.85,703.17 L674.73,703.17 L675.61,703.18 L676.50,703.18 L677.38,703.18 L678.26,703.19 L679.14,703.19 L680.02,703.19 L680.91,703.20 L681.79,703.20 L682.67,703.20 L683.55,703.21 L684.43,703.21 L685.32,703.22 L686.20,703.22 L687.08,703.22 L687.96,703.23 L688.84,703.23 L689.73,703.23 L690.61,703.24 L691.49,703.24 L692.37,703.24 L693.26,703.24 L694.14,703.25 L695.02,703.25 L695.90,703.25 L696.78,703.26 L697.67,703.26 L698.55,703.26 L699.43,703.27 L700.31,703.27 L701.19,703.27 L702.08,703.27 L702.96,703.28 L703.84,703.28 L704.72,703.28 L705.60,703.29 L706.49,703.29 L707.37,703.29 L708.25,703.29 L709.13,703.30 L710.02,703.30 L710.90,703.30 L711.78,703.30 L712.66,703.31 L713.54,703.31 L714.43,703.31 L715.31,703.31 L716.19,703.32 L717.07,703.32 L717.95,703.32 L718.84,703.32 L719.72,703.33 L720.60,703.33 L721.48,703.33 L722.36,703.33 L723.25,703.33 L724.13,703.34 L725.01,703.34 L725.89,703.34 L726.78,703.34 L727.66,703.35 L728.54,703.35 L729.42,703.35 L730.30,703.35 L731.19,703.35 L732.07,703.36 L732.95,703.36 L733.83,703.36 L734.71,703.36 L735.60,703.36 L736.48,703.37 L737.36,703.37 L738.24,703.37 L739.12,703.37 L740.01,703.37 L740.89,703.38 L741.77,703.38 L742.65,703.38 L743.53,703.38 L744.42,703.38 L745.30,703.38 L746.18,703.39 L747.06,703.39 L747.95,703.39 L748.83,703.39 L749.71,703.39 L750.59,703.39 L751.47,703.40 L752.36,703.40 L753.24,703.40 L754.12,703.40 L755.00,703.40 L755.88,703.40 L756.77,703.40 L757.65,703.41 L758.53,703.41 L759.41,703.41 L760.29,703.41 L761.18,703.41 L762.06,703.41 L762.94,703.42 L763.82,703.42 L764.71,703.42 L765.59,703.42 L766.47,703.42 L767.35,703.42 L768.23,703.42 L769.12,703.42 L770.00,703.43 L770.88,703.43 L771.76,703.43 L772.64,703.43 L773.53,703.43 L774.41,703.43 L775.29,703.43 L776.17,703.44 L777.05,703.44 L777.94,703.44 L778.82,703.44 L779.70,703.44 L780.58,703.44 L781.47,703.44 L782.35,703.44 L783.23,703.44 L784.11,703.45 L784.99,703.45 L785.88,703.45 L786.76,703.45 L787.64,703.45 L788.52,703.45 L789.40,703.45 L790.29,703.45 L791.17,703.45 L792.05,703.46 L792.93,703.46 L793.81,703.46 L794.70,703.46 L795.58,703.46 L796.46,703.46 L797.34,703.46 L798.23,703.46 L799.11,703.46 L799.99,703.46 L800.87,703.46 L801.75,703.47 L802.64,703.47 L803.52,703.47 L804.40,703.47 L805.28,703.47 L806.16,703.47 L807.05,703.47 L807.93,703.47 L808.81,703.47 L809.69,703.47 L810.57,703.47 L811.46,703.48 L812.34,703.48 L813.22,703.48 L814.10,703.48 L814.98,703.48 L815.87,703.48 L816.75,703.48 L817.63,703.48 L818.51,703.48 L819.40,703.48 L820.28,703.48 L821.16,703.48 L822.04,703.48 L822.92,703.49 L823.81,703.49 L824.69,703.49 L825.57,703.49 L826.45,703.49 L827.33,703.49 L828.22,703.49 L829.10,703.49 L829.98,703.49 L830.86,703.49 L831.74,703.49 L832.63,703.49 L833.51,703.49 L834.39,703.49 L835.27,703.49 L836.16,703.50 L837.04,703.50 L837.92,703.50 L838.80,703.50 L839.68,703.50 L840.57,703.50 L841.45,703.50 L842.33,703.50 L843.21,703.50 L844.09,703.50 L844.98,703.50 L845.86,703.50 L846.74,703.50 L847.62,703.50 L848.50,703.50 L849.39,703.50 L850.27,703.50 L851.15,703.50 L852.03,703.51 L852.92,703.51 L853.80,703.51 L854.68,703.51 L855.56,703.51 L856.44,703.51 L857.33,703.51 L858.21,703.51 L859.09,703.51 L859.97,703.51 L860.85,703.51 L861.74,703.51 L862.62,703.51 L863.50,703.51 L864.38,703.51 L865.26,703.51 L866.15,703.51 L867.03,703.51 L867.91,703.51 L868.79,703.51 L869.68,703.51 L870.56,703.52 L871.44,703.52 L872.32,703.52 L873.20,703.52 L874.09,703.52 L874.97,703.52 L875.85,703.52 L876.73,703.52 L877.61,703.52 L878.50,703.52 L879.38,703.52 L880.26,703.52 L881.14,703.52 L882.02,703.52 L882.91,703.52 L883.79,703.52 L884.67,703.52 L885.55,703.52 L886.44,703.52 L887.32,703.52 L888.20,703.52 L889.08,703.52 L889.96,703.52 L890.85,703.52 L891.73,703.52 L892.61,703.52 L893.49,703.52 L894.37,703.53 L895.26,703.53 L896.14,703.53 L897.02,703.53 L897.90,703.53 L898.78,703.53 L899.67,703.53 L900.55,703.53 L901.43,703.53 L902.31,703.53 L903.19,703.53 L904.08,703.53 L904.96,703.53 L905.84,703.53 L906.72,703.53 L907.61,703.53 L908.49,703.53 L909.37,703.53 L910.25,703.53 L911.13,703.53 L912.02,703.53 L912.90,703.53 L913.78,703.53 L914.66,703.53 L915.54,703.53 L916.43,703.53 L917.31,703.53 L918.19,703.53 L919.07,703.53 L919.95,703.53 L920.84,703.53 L921.72,703.53 L922.60,703.53 L923.48,703.53 L924.37,703.53 L925.25,703.53 L926.13,703.53 L927.01,703.53 L927.89,703.54 L928.78,703.54 L929.66,703.54 L930.54,703.54 L931.42,703.54 L932.30,703.54 L933.19,703.54 L934.07,703.54 L934.95,703.54 L935.83,703.54 L936.71,703.54 L937.60,703.54 L938.48,703.54 L939.36,703.54 L940.24,703.54 L941.13,703.54 L942.01,703.54 L942.89,703.54 L943.77,703.54 L944.65,703.54 L945.54,703.54 L946.42,703.54 L947.30,703.54 L948.20,703.54"/>
<path stroke="#0000ff" stroke-linejoin="round" d="M64.2,349.3L66.7,348.9L67.7,346.0L68.6,342.6L69.7,341.3L71.5,341.7"/>
<path stroke="#00ff00" stroke-dasharray="13.13 4.48 3.38 4.98" stroke-dashoffset="-1.2" d="M73.30,328.37 L73.77,330.37 L74.24,332.35 L74.71,334.33 L75.18,336.30 L75.65,338.25 L76.13,340.20 L76.60,342.13 L77.07,344.05 L77.54,345.97 L78.01,347.87 L78.48,349.77 L78.95,351.65 L79.42,353.52 L79.89,355.39 L80.36,357.24 L80.83,359.08 L81.30,360.92 L81.78,362.74 L82.25,364.56 L82.72,366.36 L83.19,368.15 L83.66,369.94 L84.13,371.72 L84.60,373.48 L85.07,375.24 L85.54,376.99 L86.01,378.73 L86.48,380.46 L86.95,382.18 L87.43,383.89 L87.90,385.59 L88.37,387.28 L88.84,388.97 L89.31,390.64 L89.78,392.31 L90.25,393.96 L90.72,395.61 L91.19,397.25 L91.66,398.88 L92.55,401.91 L93.43,404.91 L94.31,407.89 L95.19,410.83 L96.07,413.74 L96.96,416.62 L97.84,419.48 L98.72,422.31 L99.60,425.10 L100.48,427.87 L101.37,430.62 L102.25,433.33 L103.13,436.02 L104.01,438.68 L104.89,441.32 L105.78,443.93 L106.66,446.51 L107.54,449.07 L108.42,451.60 L109.31,454.11 L110.19,456.59 L111.07,459.05 L111.95,461.48 L112.83,463.89 L113.72,466.27 L114.60,468.64 L115.48,470.97 L116.36,473.29 L117.24,475.58 L118.13,477.85 L119.01,480.09 L119.89,482.32 L120.77,484.52 L121.65,486.70 L122.54,488.86 L123.42,490.99 L124.30,493.11 L125.18,495.20 L126.06,497.27 L126.95,499.33 L127.83,501.36 L128.71,503.37 L129.59,505.36 L130.48,507.33 L131.36,509.29 L132.24,511.22 L133.12,513.13 L134.00,515.03 L134.89,516.90 L135.77,518.76 L136.65,520.60 L137.53,522.42 L138.41,524.22 L139.30,526.01 L140.18,527.77 L141.06,529.52 L141.94,531.25 L142.82,532.97 L143.71,534.67 L144.59,536.35 L145.47,538.01 L146.35,539.66 L147.24,541.29 L148.12,542.90 L149.00,544.50 L149.88,546.08 L150.76,547.65 L151.65,549.20 L152.53,550.74 L153.41,552.26 L154.29,553.76 L155.17,555.26 L156.06,556.73 L156.94,558.19 L157.82,559.64 L158.70,561.07 L159.58,562.49 L160.47,563.89 L161.35,565.28 L162.23,566.66 L163.11,568.02 L164.00,569.37 L164.88,570.70 L165.76,572.03 L166.64,573.33 L167.52,574.63 L168.41,575.91 L169.29,577.18 L170.17,578.44 L171.05,579.68 L171.93,580.92 L172.82,582.14 L173.70,583.35 L174.58,584.54 L175.46,585.73 L176.34,586.90 L177.23,588.06 L178.11,589.21 L178.99,590.35 L179.87,591.47 L180.76,592.59 L181.64,593.69 L182.52,594.79 L183.40,595.87 L184.28,596.94 L185.17,598.00 L186.05,599.05 L186.93,600.09 L187.81,601.12 L188.69,602.14 L189.58,603.15 L190.46,604.15 L191.34,605.14 L192.22,606.12 L193.10,607.09 L193.99,608.05 L194.87,609.00 L195.75,609.94 L196.63,610.87 L197.51,611.79 L198.40,612.70 L199.28,613.61 L200.16,614.50 L201.04,615.39 L201.93,616.27 L202.81,617.13 L203.69,617.99 L204.57,618.85 L205.45,619.69 L206.34,620.52 L207.22,621.35 L208.10,622.17 L208.98,622.98 L209.86,623.78 L210.75,624.57 L211.63,625.36 L212.51,626.14 L213.39,626.91 L214.27,627.67 L215.16,628.42 L216.04,629.17 L216.92,629.91 L217.80,630.65 L218.69,631.37 L219.57,632.09 L220.45,632.80 L221.33,633.50 L222.21,634.20 L223.10,634.89 L223.98,635.57 L224.86,636.25 L225.74,636.92 L226.62,637.58 L227.51,638.24 L228.39,638.89 L229.27,639.53 L230.15,640.17 L231.03,640.80 L231.92,641.43 L232.80,642.04 L233.68,642.66 L234.56,643.26 L235.45,643.86 L236.33,644.46 L237.21,645.04 L238.09,645.63 L238.97,646.20 L239.86,646.77 L240.74,647.34 L241.62,647.90 L242.50,648.45 L243.38,649.00 L244.27,649.54 L245.15,650.08 L246.03,650.61 L246.91,651.14 L247.79,651.66 L248.68,652.18 L249.56,652.69 L250.44,653.19 L251.32,653.70 L252.21,654.19 L253.09,654.68 L253.97,655.17 L254.85,655.65 L255.73,656.13 L256.62,656.60 L257.50,657.07 L258.38,657.53 L259.26,657.99 L260.14,658.44 L261.03,658.89 L261.91,659.33 L262.79,659.77 L263.67,660.21 L264.55,660.64 L265.44,661.07 L266.32,661.49 L267.20,661.91 L268.08,662.32 L268.97,662.73 L269.85,663.14 L270.73,663.54 L271.61,663.94 L272.49,664.33 L273.38,664.72 L274.26,665.11 L275.14,665.49 L276.02,665.87 L276.90,666.25 L277.79,666.62 L278.67,666.99 L279.55,667.35 L280.43,667.71 L281.31,668.07 L282.20,668.42 L283.08,668.77 L283.96,669.12 L284.84,669.46 L285.73,669.80 L286.61,670.13 L287.49,670.47 L288.37,670.80 L289.25,671.12 L290.14,671.44 L291.02,671.76 L291.90,672.08 L292.78,672.39 L293.66,672.70 L294.55,673.01 L295.43,673.31 L296.31,673.62 L297.19,673.91 L298.07,674.21 L298.96,674.50 L299.84,674.79 L300.72,675.08 L301.60,675.36 L302.48,675.64 L303.37,675.92 L304.25,676.19 L305.13,676.46 L306.01,676.73 L306.90,677.00 L307.78,677.27 L308.66,677.53 L309.54,677.79 L310.42,678.04 L311.31,678.30 L312.19,678.55 L313.07,678.80 L313.95,679.04 L314.83,679.29 L315.72,679.53 L316.60,679.77 L317.48,680.00 L318.36,680.24 L319.24,680.47 L320.13,680.70 L321.01,680.93 L321.89,681.15 L322.77,681.38 L323.66,681.60 L324.54,681.81 L325.42,682.03 L326.30,682.25 L327.18,682.46 L328.07,682.67 L328.95,682.88 L329.83,683.08 L330.71,683.28 L331.59,683.49 L332.48,683.69 L333.36,683.88 L334.24,684.08 L335.12,684.27 L336.00,684.47 L336.89,684.66 L337.77,684.84 L338.65,685.03 L339.53,685.21 L340.42,685.40 L341.30,685.58 L342.18,685.76 L343.06,685.93 L343.94,686.11 L344.83,686.28 L345.71,686.45 L346.59,686.62 L347.47,686.79 L348.35,686.96 L349.24,687.12 L350.12,687.29 L351.00,687.45 L351.88,687.61 L352.76,687.77 L353.65,687.93 L354.53,688.08 L355.41,688.24 L356.29,688.39 L357.18,688.54 L358.06,688.69 L358.94,688.84 L359.82,688.98 L360.70,689.13 L361.59,689.27 L362.47,689.41 L363.35,689.55 L364.23,689.69 L365.11,689.83 L366.00,689.97 L366.88,690.10 L367.76,690.24 L368.64,690.37 L369.52,690.50 L370.41,690.63 L371.29,690.76 L372.17,690.89 L373.05,691.01 L373.93,691.14 L374.82,691.26 L375.70,691.38 L376.58,691.50 L377.46,691.62 L378.35,691.74 L379.23,691.86 L380.11,691.98 L380.99,692.09 L381.87,692.21 L382.76,692.32 L383.64,692.43 L384.52,692.54 L385.40,692.65 L386.28,692.76 L387.17,692.87 L388.05,692.97 L388.93,693.08 L389.81,693.18 L390.69,693.29 L391.58,693.39 L392.46,693.49 L393.34,693.59 L394.22,693.69 L395.11,693.79 L395.99,693.88 L396.87,693.98 L397.75,694.08 L398.63,694.17 L399.52,694.26 L400.40,694.36 L401.28,694.45 L402.16,694.54 L403.04,694.63 L403.93,694.72 L404.81,694.81 L405.69,694.89 L406.57,694.98 L407.45,695.06 L408.34,695.15 L409.22,695.23 L410.10,695.31 L410.98,695.40 L411.87,695.48 L412.75,695.56 L413.63,695.64 L414.51,695.72 L415.39,695.79 L416.28,695.87 L417.16,695.95 L418.04,696.02 L418.92,696.10 L419.80,696.17 L420.69,696.25 L421.57,696.32 L422.45,696.39 L423.33,696.46 L424.21,696.53 L425.10,696.60 L425.98,696.67 L426.86,696.74 L427.74,696.81 L428.63,696.88 L429.51,696.94 L430.39,697.01 L431.27,697.07 L432.15,697.14 L433.04,697.20 L433.92,697.27 L434.80,697.33 L435.68,697.39 L436.56,697.45 L437.45,697.51 L438.33,697.57 L439.21,697.63 L440.09,697.69 L440.97,697.75 L441.86,697.81 L442.74,697.86 L443.62,697.92 L444.50,697.98 L445.39,698.03 L446.27,698.09 L447.15,698.14 L448.03,698.20 L448.91,698.25 L449.80,698.30 L450.68,698.35 L451.56,698.41 L452.44,698.46 L453.32,698.51 L454.21,698.56 L455.09,698.61 L455.97,698.66 L456.85,698.71 L457.73,698.75 L458.62,698.80 L459.50,698.85 L460.38,698.90 L461.26,698.94 L462.14,698.99 L463.03,699.03 L463.91,699.08 L464.79,699.12 L465.67,699.17 L466.56,699.21 L467.44,699.25 L468.32,699.30 L469.20,699.34 L470.08,699.38 L470.97,699.42 L471.85,699.46 L472.73,699.50 L473.61,699.55 L474.49,699.59 L475.38,699.62 L476.26,699.66 L477.14,699.70 L478.02,699.74 L478.90,699.78 L479.79,699.82 L480.67,699.85 L481.55,699.89 L482.43,699.93 L483.32,699.96 L484.20,700.00 L485.08,700.03 L485.96,700.07 L486.84,700.10 L487.73,700.14 L488.61,700.17 L489.49,700.21 L490.37,700.24 L491.25,700.27 L492.14,700.31 L493.02,700.34 L493.90,700.37 L494.78,700.40 L495.66,700.43 L496.55,700.46 L497.43,700.49 L498.31,700.52 L499.19,700.56 L500.08,700.59 L500.96,700.61 L501.84,700.64 L502.72,700.67 L503.60,700.70 L504.49,700.73 L505.37,700.76 L506.25,700.79 L507.13,700.81 L508.01,700.84 L508.90,700.87 L509.78,700.89 L510.66,700.92 L511.54,700.95 L512.42,700.97 L513.31,701.00 L514.19,701.02 L515.07,701.05 L515.95,701.07 L516.84,701.10 L517.72,701.12 L518.60,701.15 L519.48,701.17 L520.36,701.20 L521.25,701.22 L522.13,701.24 L523.01,701.27 L523.89,701.29 L524.77,701.31 L525.66,701.33 L526.54,701.36 L527.42,701.38 L528.30,701.40 L529.18,701.42 L530.07,701.44 L530.95,701.46 L531.83,701.48 L532.71,701.50 L533.60,701.52 L534.48,701.54 L535.36,701.56 L536.24,701.58 L537.12,701.60 L538.01,701.62 L538.89,701.64 L539.77,701.66 L540.65,701.68 L541.53,701.70 L542.42,701.72 L543.30,701.74 L544.18,701.75 L545.06,701.77 L545.94,701.79 L546.83,701.81 L547.71,701.83 L548.59,701.84 L549.47,701.86 L550.36,701.88 L551.24,701.89 L552.12,701.91 L553.00,701.93 L553.88,701.94 L554.77,701.96 L555.65,701.97 L556.53,701.99 L557.41,702.01 L558.29,702.02 L559.18,702.04 L560.06,702.05 L560.94,702.07 L561.82,702.08 L562.70,702.10 L563.59,702.11 L564.47,702.12 L565.35,702.14 L566.23,702.15 L567.11,702.17 L568.00,702.18 L568.88,702.19 L569.76,702.21 L570.64,702.22 L571.53,702.23 L572.41,702.25 L573.29,702.26 L574.17,702.27 L575.05,702.29 L575.94,702.30 L576.82,702.31 L577.70,702.32 L578.58,702.34 L579.46,702.35 L580.35,702.36 L581.23,702.37 L582.11,702.38 L582.99,702.40 L583.87,702.41 L584.76,702.42 L585.64,702.43 L586.52,702.44 L587.40,702.45 L588.29,702.46 L589.17,702.47 L590.05,702.49 L590.93,702.50 L591.81,702.51 L592.70,702.52 L593.58,702.53 L594.46,702.54 L595.34,702.55 L596.22,702.56 L597.11,702.57 L597.99,702.58 L598.87,702.59 L599.75,702.60 L600.63,702.61 L601.52,702.62 L602.40,702.63 L603.28,702.63 L604.16,702.64 L605.05,702.65 L605.93,702.66 L606.81,702.67 L607.69,702.68 L608.57,702.69 L609.46,702.70 L610.34,702.71 L611.22,702.71 L612.10,702.72 L612.98,702.73 L613.87,702.74 L614.75,702.75 L615.63,702.76 L616.51,702.76 L617.39,702.77 L618.28,702.78 L619.16,702.79 L620.04,702.79 L620.92,702.80 L621.81,702.81 L622.69,702.82 L623.57,702.82 L624.45,702.83 L625.33,702.84 L626.22,702.85 L627.10,702.85 L627.98,702.86 L628.86,702.87 L629.74,702.87 L630.63,702.88 L631.51,702.89 L632.39,702.89 L633.27,702.90 L634.15,702.91 L635.04,702.91 L635.92,702.92 L636.80,702.93 L637.68,702.93 L638.56,702.94 L639.45,702.94 L640.33,702.95 L641.21,702.96 L642.09,702.96 L642.98,702.97 L643.86,702.97 L644.74,702.98 L645.62,702.99 L646.50,702.99 L647.39,703.00 L648.27,703.00 L649.15,703.01 L650.03,703.01 L650.91,703.02 L651.80,703.02 L652.68,703.03 L653.56,703.04 L654.44,703.04 L655.32,703.05 L656.21,703.05 L657.09,703.06 L657.97,703.06 L658.85,703.07 L659.74,703.07 L660.62,703.08 L661.50,703.08 L662.38,703.09 L663.26,703.09 L664.15,703.09 L665.03,703.10 L665.91,703.10 L666.79,703.11 L667.67,703.11 L668.56,703.12 L669.44,703.12 L670.32,703.13 L671.20,703.13 L672.08,703.13 L672.97,703.14 L673.85,703.14 L674.73,703.15 L675.61,703.15 L676.50,703.15 L677.38,703.16 L678.26,703.16 L679.14,703.17 L680.02,703.17 L680.91,703.17 L681.79,703.18 L682.67,703.18 L683.55,703.19 L684.43,703.19 L685.32,703.19 L686.20,703.20 L687.08,703.20 L687.96,703.20 L688.84,703.21 L689.73,703.21 L690.61,703.21 L691.49,703.22 L692.37,703.22 L693.26,703.22 L694.14,703.23 L695.02,703.23 L695.90,703.23 L696.78,703.24 L697.67,703.24 L698.55,703.24 L699.43,703.25 L700.31,703.25 L701.19,703.25 L702.08,703.26 L702.96,703.26 L703.84,703.26 L704.72,703.26 L705.60,703.27 L706.49,703.27 L707.37,703.27 L708.25,703.28 L709.13,703.28 L710.02,703.28 L710.90,703.28 L711.78,703.29 L712.66,703.29 L713.54,703.29 L714.43,703.30 L715.31,703.30 L716.19,703.30 L717.07,703.30 L717.95,703.31 L718.84,703.31 L719.72,703.31 L720.60,703.31 L721.48,703.32 L722.36,703.32 L723.25,703.32 L724.13,703.32 L725.01,703.32 L725.89,703.33 L726.78,703.33 L727.66,703.33 L728.54,703.33 L729.42,703.34 L730.30,703.34 L731.19,703.34 L732.07,703.34 L732.95,703.34 L733.83,703.35 L734.71,703.35 L735.60,703.35 L736.48,703.35 L737.36,703.36 L738.24,703.36 L739.12,703.36 L740.01,703.36 L740.89,703.36 L741.77,703.37 L742.65,703.37 L743.53,703.37 L744.42,703.37 L745.30,703.37 L746.18,703.37 L747.06,703.38 L747.95,703.38 L748.83,703.38 L749.71,703.38 L750.59,703.38 L751.47,703.39 L752.36,703.39 L753.24,703.39 L754.12,703.39 L755.00,703.39 L755.88,703.39 L756.77,703.40 L757.65,703.40 L758.53,703.40 L759.41,703.40 L760.29,703.40 L761.18,703.40 L762.06,703.40 L762.94,703.41 L763.82,703.41 L764.71,703.41 L765.59,703.41 L766.47,703.41 L767.35,703.41 L768.23,703.41 L769.12,703.42 L770.00,703.42 L770.88,703.42 L771.76,703.42 L772.64,703.42 L773.53,703.42 L774.41,703.42 L775.29,703.43 L776.17,703.43 L777.05,703.43 L777.94,703.43 L778.82,703.43 L779.70,703.43 L780.58,703.43 L781.47,703.43 L782.35,703.44 L783.23,703.44 L784.11,703.44 L784.99,703.44 L785.88,703.44 L786.76,703.44 L787.64,703.44 L788.52,703.44 L789.40,703.45 L790.29,703.45 L791.17,703.45 L792.05,703.45 L792.93,703.45 L793.81,703.45 L794.70,703.45 L795.58,703.45 L796.46,703.45 L797.34,703.45 L798.23,703.46 L799.11,703.46 L799.99,703.46 L800.87,703.46 L801.75,703.46 L802.64,703.46 L803.52,703.46 L804.40,703.46 L805.28,703.46 L806.16,703.46 L807.05,703.47 L807.93,703.47 L808.81,703.47 L809.69,703.47 L810.57,703.47 L811.46,703.47 L812.34,703.47 L813.22,703.47 L814.10,703.47 L814.98,703.47 L815.87,703.47 L816.75,703.48 L817.63,703.48 L818.51,703.48 L819.40,703.48 L820.28,703.48 L821.16,703.48 L822.04,703.48 L822.92,703.48 L823.81,703.48 L824.69,703.48 L825.57,703.48 L826.45,703.48 L827.33,703.48 L828.22,703.49 L829.10,703.49 L829.98,703.49 L830.86,703.49 L831.74,703.49 L832.63,703.49 L833.51,703.49 L834.39,703.49 L835.27,703.49 L836.16,703.49 L837.04,703.49 L837.92,703.49 L838.80,703.49 L839.68,703.49 L840.57,703.49 L841.45,703.50 L842.33,703.50 L843.21,703.50 L844.09,703.50 L844.98,703.50 L845.86,703.50 L846.74,703.50 L847.62,703.50 L848.50,703.50 L849.39,703.50 L850.27,703.50 L851.15,703.50 L852.03,703.50 L852.92,703.50 L853.80,703.50 L854.68,703.50 L855.56,703.50 L856.44,703.50 L857.33,703.51 L858.21,703.51 L859.09,703.51 L859.97,703.51 L860.85,703.51 L861.74,703.51 L862.62,703.51 L863.50,703.51 L864.38,703.51 L865.26,703.51 L866.15,703.51 L867.03,703.51 L867.91,703.51 L868.79,703.51 L869.68,703.51 L870.56,703.51 L871.44,703.51 L872.32,703.51 L873.20,703.51 L874.09,703.51 L874.97,703.51 L875.85,703.52 L876.73,703.52 L877.61,703.52 L878.50,703.52 L879.38,703.52 L880.26,703.52 L881.14,703.52 L882.02,703.52 L882.91,703.52 L883.79,703.52 L884.67,703.52 L885.55,703.52 L886.44,703.52 L887.32,703.52 L888.20,703.52 L889.08,703.52 L889.96,703.52 L890.85,703.52 L891.73,703.52 L892.61,703.52 L893.49,703.52 L894.37,703.52 L895.26,703.52 L896.14,703.52 L897.02,703.52 L897.90,703.52 L898.78,703.52 L899.67,703.53 L900.55,703.53 L901.43,703.53 L902.31,703.53 L903.19,703.53 L904.08,703.53 L904.96,703.53 L905.84,703.53 L906.72,703.53 L907.61,703.53 L908.49,703.53 L909.37,703.53 L910.25,703.53 L911.13,703.53 L912.02,703.53 L912.90,703.53 L913.78,703.53 L914.66,703.53 L915.54,703.53 L916.43,703.53 L917.31,703.53 L918.19,703.53 L919.07,703.53 L919.95,703.53 L920.84,703.53 L921.72,703.53 L922.60,703.53 L923.48,703.53 L924.37,703.53 L925.25,703.53 L926.13,703.53 L927.01,703.53 L927.89,703.53 L928.78,703.53 L929.66,703.53 L930.54,703.53 L931.42,703.53 L932.30,703.53 L933.19,703.54 L934.07,703.54 L934.95,703.54 L935.83,703.54 L936.71,703.54 L937.60,703.54 L938.48,703.54 L939.36,703.54 L940.24,703.54 L941.13,703.54 L942.01,703.54 L942.89,703.54 L943.77,703.54 L944.65,703.54 L945.54,703.54 L946.42,703.54 L947.30,703.54 L948.20,703.54"/>
<path stroke="#00ff00" stroke-linejoin="round" d="M64.2,330.8L66.3,330.4L67.3,327.4L68.0,324.4L69.0,323.0L70.0,322.8M70.8,322.8L73.0,322.8"/>
</g>
<rect x="776.6" y="36.6" width="143.40" height="120.10" fill="#fff" stroke="#000" stroke-width="2"/>
<g fill="none" stroke-width="3.3">
<path stroke="#ff0000" d="M792.6,60.0H873.7"/>
<path stroke="#0000ff" stroke-dasharray="16.45 9.65" d="M792.6,97.0H873.7"/>
<path stroke="#00ff00" stroke-dasharray="13.2 4.5 3.4 5.0" d="M792.6,133.7H873.7"/>
</g>
<g fill="#000" text-rendering="geometricPrecision">
<text transform="translate(881.5,67.90) scale(1.10,1) rotate(0.03)" font-family="'DejaVu Sans', sans-serif" font-size="26.7">ℑ</text>
<text transform="translate(885.15,60.70) rotate(0.03)" font-family="'DejaVu Sans', sans-serif" font-size="24.4">ˆ</text>
<text transform="translate(901.0,72.00) rotate(0.03)" font-family="'Liberation Serif', serif" font-size="19.6" stroke="#000" stroke-width="0.35">1</text>
<text transform="translate(881.5,105.10) scale(1.10,1) rotate(0.03)" font-family="'DejaVu Sans', sans-serif" font-size="26.7">ℑ</text>
<text transform="translate(885.15,97.90) rotate(0.03)" font-family="'DejaVu Sans', sans-serif" font-size="24.4">ˆ</text>
<text transform="translate(901.0,109.20) rotate(0.03)" font-family="'Liberation Serif', serif" font-size="19.6" stroke="#000" stroke-width="0.35">2</text>
<text transform="translate(881.5,142.00) scale(1.10,1) rotate(0.03)" font-family="'DejaVu Sans', sans-serif" font-size="26.7">ℑ</text>
<text transform="translate(885.15,134.80) rotate(0.03)" font-family="'DejaVu Sans', sans-serif" font-size="24.4">ˆ</text>
<text transform="translate(901.0,146.10) rotate(0.03)" font-family="'Liberation Serif', serif" font-size="19.6" stroke="#000" stroke-width="0.35">3</text>
</g>
</svg>
</body>
</html>
